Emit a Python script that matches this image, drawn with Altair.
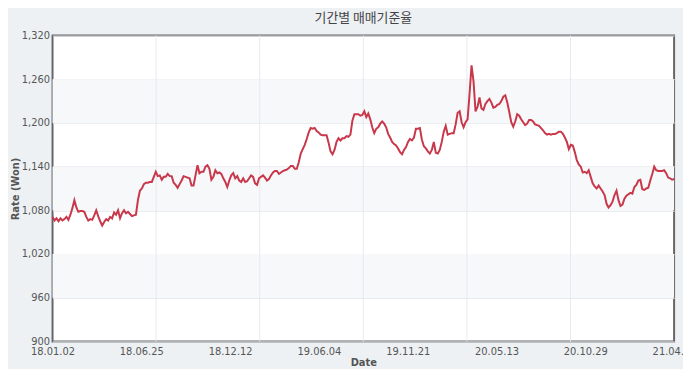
import altair as alt
import pandas as pd

chart_title = "기간별 매매기준율"

# Daily-ish KRW/USD base rate (one value per ~2px)
rates = [
    1071, 1066, 1069, 1065, 1069, 1066, 1068, 1071, 1067, 1074,
    1083, 1094, 1084, 1078, 1079, 1079, 1078, 1071, 1066, 1068,
    1067, 1073, 1080, 1072, 1065, 1059, 1064, 1068, 1066, 1071,
    1069, 1077, 1074, 1080, 1069, 1076, 1080, 1076, 1078, 1075,
    1072, 1073, 1074, 1094, 1107, 1110, 1116, 1118, 1118, 1119,
    1119, 1126,
    1133, 1127, 1128, 1122, 1126, 1126, 1130, 1127, 1127, 1118,
    1115, 1111, 1116, 1121, 1127, 1126, 1125, 1124, 1114, 1114,
    1128, 1142, 1131, 1133, 1133, 1140, 1142, 1137, 1122, 1126,
    1135, 1131, 1132, 1130, 1124, 1119, 1112, 1121, 1128, 1131,
    1124, 1127, 1121, 1119, 1124, 1119, 1120, 1124, 1128, 1126,
    1117, 1115, 1124, 1126, 1128,
    1125, 1121, 1123, 1128, 1132, 1134, 1134, 1130, 1132, 1134,
    1135, 1136, 1138, 1141, 1141, 1137, 1137, 1146, 1158, 1164,
    1170, 1178, 1187, 1193, 1192, 1193, 1189, 1187, 1184, 1183,
    1183, 1183, 1173, 1161, 1157, 1163, 1174, 1179, 1176, 1179,
    1179, 1182, 1181, 1184, 1203, 1212, 1212, 1212, 1210, 1211,
    1216, 1208, 1213, 1205, 1194, 1186, 1192, 1194, 1199, 1202,
    1199, 1194, 1185, 1180, 1174, 1171, 1169, 1165, 1160, 1157,
    1163, 1167, 1174, 1178, 1176, 1180, 1192, 1192, 1193, 1177,
    1168, 1165, 1161, 1158, 1163, 1174, 1159, 1158, 1163, 1174,
    1188, 1196, 1184, 1185, 1186, 1186, 1198, 1214, 1216, 1201,
    1194, 1201, 1205, 1240, 1279, 1257, 1216, 1222, 1235, 1220,
    1218, 1226, 1230, 1233, 1228, 1221, 1222, 1225, 1226, 1230,
    1236, 1238, 1228, 1215, 1201, 1195, 1202, 1212, 1210, 1205,
    1201, 1197, 1199, 1204, 1204, 1202, 1198, 1197, 1196, 1193,
    1190, 1186, 1184, 1185, 1184, 1185, 1185, 1186, 1188, 1188,
    1185, 1180, 1174,
    1164, 1170, 1169, 1160, 1149, 1143, 1140, 1132, 1133, 1131,
    1135, 1126, 1117, 1113, 1110, 1114, 1110, 1106, 1101, 1089,
    1084, 1087, 1092, 1101, 1107, 1094, 1086, 1088, 1096, 1100,
    1102, 1104, 1103, 1112, 1115, 1121, 1122, 1109, 1108, 1110,
    1111, 1121, 1130, 1140, 1135, 1134, 1134, 1134, 1135, 1131,
    1125, 1124, 1122, 1123,
]

date_labels = ["18.01.02", "18.06.25", "18.12.12", "19.06.04",
               "19.11.21", "20.05.13", "20.10.29", "21.04.21"]
y_ticks = [900, 960, 1020, 1080, 1140, 1200, 1260, 1320]
band_lo = [960, 1080, 1200]
band_hi = [1020, 1140, 1260]

n = len(rates)
last = n - 1
df = pd.DataFrame({"i": list(range(n)), "rate": rates})
label_pos = [last * k / (len(date_labels) - 1) for k in range(len(date_labels))]
grid_pos = [last * k / 6 for k in range(1, 6)]

labels_js = "[" + ",".join("'" + s + "'" for s in date_labels) + "]"
label_expr = f"{labels_js}[round(datum.value / ({last} / {len(date_labels) - 1}))]"

W, H = 628, 309
font = "DejaVu Sans"

xscale = alt.Scale(domain=[0, last], nice=False, zero=False)
yscale = alt.Scale(domain=[900, 1320], nice=False, zero=False)

x_axis = alt.Axis(
    values=label_pos,
    labelExpr=label_expr,
    grid=False,
    ticks=False,
    domain=False,
    title="Date",
    labelPadding=5,
    titlePadding=1,
    labelFont=font,
    labelFontSize=10,
    labelColor="#555555",
    titleFont=font,
    titleFontSize=10,
    titleFontWeight="bold",
    titleColor="#555555",
    labelOverlap=False,
    labelFlush=False,
)
y_axis = alt.Axis(
    values=y_ticks,
    format=",d",
    grid=True,
    gridColor="#e3e7ec",
    ticks=False,
    domain=False,
    title="Rate (Won)",
    labelPadding=3,
    titlePadding=1,
    labelFont=font,
    labelFontSize=10,
    labelColor="#555555",
    titleFont=font,
    titleFontSize=10,
    titleFontWeight="bold",
    titleColor="#555555",
)

bands = alt.Chart(pd.DataFrame({"lo": band_lo, "hi": band_hi})).mark_rect(
    color="#f6f8fa"
).encode(
    y=alt.Y("lo:Q", scale=yscale, axis=y_axis),
    y2="hi:Q",
    x=alt.value(0),
    x2=alt.value(W),
)

vgrid = alt.Chart(pd.DataFrame({"g": grid_pos})).mark_rule(
    color="#e6e9ee", strokeWidth=1
).encode(x=alt.X("g:Q", scale=xscale, axis=x_axis))

line = alt.Chart(df).mark_line(color="#c8374a", strokeWidth=2).encode(
    x=alt.X("i:Q", scale=xscale, axis=x_axis),
    y=alt.Y("rate:Q", scale=yscale, axis=y_axis),
)

chart = alt.layer(bands, vgrid, line).properties(
    width=W,
    height=H,
    title=alt.TitleParams(
        text=chart_title,
        font="Noto Sans CJK KR",
        fontSize=13,
        fontWeight="normal",
        color="#444444",
        anchor="middle",
        offset=6,
    ),
    padding={"left": 45, "top": 26, "right": 9, "bottom": 26},
    autosize=alt.AutoSizeParams(type="none"),
    background="#edf1f4",
).configure_view(stroke="#666666", strokeWidth=2, fill="white")

chart.save("out.html", embed_options={"renderer": "svg", "actions": False})
